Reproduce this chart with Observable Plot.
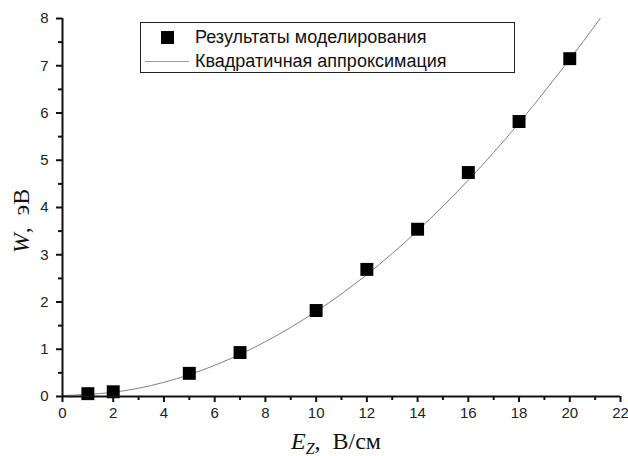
<!DOCTYPE html>
<html><head><meta charset="utf-8">
<script src="https://cdn.jsdelivr.net/npm/d3@7"></script>
<script src="https://cdn.jsdelivr.net/npm/@observablehq/plot@0.6"></script>
<style>
html,body{margin:0;padding:0;background:#fff;}
#wrap{position:relative;width:628px;height:456px;}
#legend{position:absolute;left:140px;top:22px;width:373px;height:49px;border:1px solid #222;background:#fff;font-family:"Liberation Sans",Arial,sans-serif;font-size:18px;color:#111;}
#legend .row{position:absolute;left:0;height:20px;line-height:20px;white-space:nowrap;}
#legend .sq{position:absolute;left:20px;top:8px;width:13px;height:13px;background:#000;}
#legend .ln{position:absolute;left:4px;top:38px;width:44px;height:0;border-top:1px solid #999;}
</style></head>
<body><div id="wrap"></div>
<script>
// Simulation results
const E = [1, 2, 5, 7, 10, 12, 14, 16, 18, 20];
const W = [0.06, 0.10, 0.49, 0.93, 1.82, 2.69, 3.54, 4.74, 5.82, 7.15];
// Quadratic approximation
const fitE = [0, 2, 4, 6, 8, 10, 12, 14, 16, 18, 20, 21.2];
const fitW = [0.02, 0.09, 0.30, 0.66, 1.16, 1.80, 2.58, 3.51, 4.58, 5.79, 7.14, 8.0];
// Ticks
const xMajor = [0, 2, 4, 6, 8, 10, 12, 14, 16, 18, 20, 22];
const xMinor = [1, 3, 5, 7, 9, 11, 13, 15, 17, 19, 21];
const yMajor = [0, 1, 2, 3, 4, 5, 6, 7, 8];
const yMinor = [0.5, 1.5, 2.5, 3.5, 4.5, 5.5, 6.5, 7.5];
const legendLabels = ["Результаты моделирования", "Квадратичная аппроксимация"];

const points = E.map((e, i) => ({e, w: W[i]}));
const fit = fitE.map((e, i) => ({e, w: fitW[i]}));

const chart = Plot.plot({
  width: 628, height: 456,
  marginLeft: 62, marginRight: 8, marginTop: 18, marginBottom: 60,
  x: {domain: [0, 22]},
  y: {domain: [0, 8]},
  style: {fontFamily: "Liberation Sans, Arial, sans-serif", fontSize: "15px", color: "#222", background: "#fff"},
  marks: [
    Plot.line(fit, {x: "e", y: "w", stroke: "#808080", strokeWidth: 1, curve: "natural"}),
    Plot.dot(points, {x: "e", y: "w", symbol: "square", fill: "#000", r: 7.3}),
    Plot.axisX({ticks: xMajor, tickSize: 6, tickPadding: 5, strokeWidth: 2, stroke: "#111", label: null, fontSize: 15}),
    Plot.axisX({ticks: xMinor, tickSize: 4, tickFormat: () => "", strokeWidth: 2, stroke: "#111", label: null}),
    Plot.axisY({ticks: yMajor, tickSize: 6, tickPadding: 8, strokeWidth: 2, stroke: "#111", label: null, fontSize: 15}),
    Plot.axisY({ticks: yMinor, tickSize: 4, tickFormat: () => "", strokeWidth: 2, stroke: "#111", label: null}),
    Plot.ruleX([0], {stroke: "#111", strokeWidth: 2}),
    Plot.ruleY([0], {stroke: "#111", strokeWidth: 2})
  ]
});

const svg = d3.select(chart);
const serif = "'Liberation Serif', 'Times New Roman', serif";
// x label
const xl = svg.append("text").attr("x", 336).attr("y", 449).attr("text-anchor", "middle")
  .style("font-family", serif).style("font-size", "24px").attr("fill", "#111");
xl.append("tspan").style("font-family", serif).style("font-style", "italic").text("E");
xl.append("tspan").style("font-family", serif).style("font-style", "italic").style("font-size", "16px").attr("dy", 5).text("Z");
xl.append("tspan").style("font-family", serif).attr("dy", -5).text(",  В/см");
// y label
const yl = svg.append("text").attr("transform", "translate(29,221) rotate(-90)").attr("text-anchor", "middle")
  .style("font-family", serif).style("font-size", "24px").attr("fill", "#111");
yl.append("tspan").style("font-family", serif).style("font-style", "italic").text("W");
yl.append("tspan").style("font-family", serif).text(",  эВ");

const wrap = document.getElementById("wrap");
wrap.appendChild(chart);
const lg = document.createElement("div");
lg.id = "legend";
lg.innerHTML = `<div class="sq"></div><div class="row" style="left:54px;top:4px">${legendLabels[0]}</div>
<div class="ln"></div><div class="row" style="left:54px;top:28px">${legendLabels[1]}</div>`;
wrap.appendChild(lg);
</script></body></html>
